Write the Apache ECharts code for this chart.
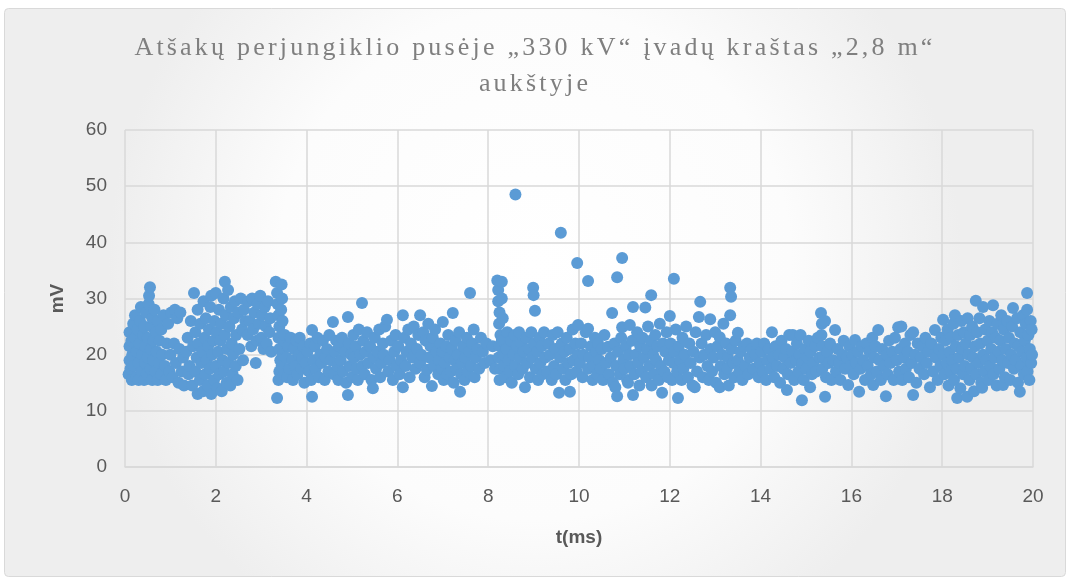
<!DOCTYPE html>
<html>
<head>
<meta charset="utf-8">
<script src="https://cdn.jsdelivr.net/npm/echarts@6/dist/echarts.min.js"></script>
<style>html,body{margin:0;padding:0;background:#fff;}#c{width:1070px;height:578px;}</style>
</head>
<body>
<div id="c"></div>
<script>
const titleText = 'Atšakų perjungiklio pusėje „330 kV“ įvadų kraštas „2,8 m“\naukštyje';
const xName = 't(ms)';
const yName = 'mV';
const xTicks = [0, 2, 4, 6, 8, 10, 12, 14, 16, 18, 20];
const yTicks = [0, 10, 20, 30, 40, 50, 60];

const seg0 = [[0.08,16.5],[0.1,19],[0.1,21.5],[0.1,24],[0.12,17.5],[0.14,22.5],[0.15,15.5],[0.16,20],[0.18,25.5],[0.2,18],[0.22,23],[0.22,27],[0.25,16],[0.26,20.5],[0.28,24.5],[0.3,15.5],[0.3,18.5],[0.32,22],[0.33,26],[0.35,28.5],[0.37,17],[0.38,20],[0.4,23.5],[0.42,15.5],[0.42,25],[0.44,18.5],[0.45,21.5],[0.46,27.5],[0.48,16.5],[0.5,19.5],[0.5,23],[0.52,29],[0.53,30.5],[0.55,32],[0.56,17.5],[0.57,21],[0.58,25],[0.6,15.5],[0.6,26.5],[0.62,19],[0.63,22.5],[0.65,28],[0.67,17],[0.68,24],[0.7,20.5],[0.72,15.5],[0.72,26],[0.75,18.5],[0.76,22.5],[0.8,16.5],[0.8,24.5],[0.82,20],[0.85,27],[0.88,18],[0.9,15.5],[0.92,22],[0.95,25.5],[0.98,17],[1.0,20],[1.02,27.5],[1.05,16],[1.08,22],[1.1,28],[1.12,18.5],[1.15,26.5],[1.18,15],[1.2,21],[1.22,27.5],[1.25,17],[1.28,19.5],[1.3,14.5]];
const seg1 = [[1.35,20.5],[1.38,23],[1.4,16.5],[1.42,18],[1.45,26],[1.48,14.5],[1.5,21.5],[1.52,31],[1.55,24],[1.55,17],[1.58,19.5],[1.6,13],[1.6,28],[1.62,22],[1.65,15.5],[1.66,25.5],[1.68,18.5],[1.7,20.5],[1.72,13.5],[1.73,29.5],[1.75,23],[1.77,16.5],[1.78,26.5],[1.8,19],[1.82,14.5],[1.83,21.5],[1.85,24.5],[1.87,17.5],[1.88,28.5],[1.9,13],[1.9,30.5],[1.92,20],[1.95,22.5],[1.96,15.5],[1.97,26],[2.0,18],[2.0,31],[2.02,24],[2.04,14],[2.05,20.5],[2.07,28],[2.08,16.5],[2.1,22.5],[2.12,25.5],[2.13,13.5],[2.15,19],[2.17,30],[2.18,17],[2.2,33],[2.2,23.5],[2.22,27],[2.24,15],[2.25,21],[2.27,31.5],[2.28,18.5],[2.3,25],[2.32,14.5],[2.33,28.5],[2.35,22],[2.37,16.5],[2.38,20],[2.4,26.5],[2.42,29.5],[2.44,18],[2.45,23.5],[2.48,15.5],[2.5,27.5],[2.52,21],[2.55,30],[2.58,24.5],[2.6,19],[2.62,28],[2.65,26]];
const seg2 = [[2.7,23.5],[2.72,29.5],[2.75,26],[2.78,21.5],[2.8,30],[2.82,24.5],[2.85,27.5],[2.88,18.5],[2.9,22.5],[2.92,29],[2.95,25.5],[2.98,30.5],[3.0,23],[3.02,27],[3.05,21],[3.08,28.5],[3.1,25],[3.12,22],[3.15,29.5],[3.18,24],[3.2,26.5],[3.22,20.5],[3.32,33],[3.35,31],[3.36,29],[3.38,27],[3.4,25],[3.38,23],[3.4,21],[3.42,19],[3.4,17],[3.38,15.5],[3.35,12.3],[3.45,32.5],[3.46,30],[3.44,28],[3.47,26],[3.48,22.5],[3.45,18],[3.5,16.5],[3.47,20],[3.52,23.5],[3.55,19.5],[3.57,16],[3.6,21.5],[3.62,17.5],[3.65,23],[3.68,19],[3.7,15.5],[3.72,21],[3.75,18],[3.78,22.5],[3.8,16.5],[3.83,20],[3.85,23],[3.88,17.5],[3.9,19.5],[3.93,21.5],[3.95,15],[3.98,18.5]];
const seg3 = [[4.02,20.5],[4.05,17],[4.08,22],[4.1,15.5],[4.12,24.4],[4.12,12.5],[4.15,19],[4.18,21.5],[4.2,17.5],[4.24,23],[4.27,16],[4.3,20],[4.33,18.5],[4.36,22.5],[4.4,15.5],[4.42,19.5],[4.45,21],[4.48,17],[4.5,23.5],[4.53,19],[4.58,25.8],[4.6,16.5],[4.62,20.5],[4.65,22.5],[4.68,18],[4.7,15.5],[4.72,21.5],[4.75,19],[4.78,23],[4.8,17],[4.84,20.5],[4.87,15],[4.91,26.7],[4.91,12.8],[4.93,22],[4.95,18],[4.98,20],[5.0,16],[5.03,23.5],[5.05,19.5],[5.08,21.5],[5.1,17.5],[5.13,15.5],[5.15,24.5],[5.18,20],[5.22,29.2],[5.22,18],[5.25,22.5],[5.28,16.5],[5.3,20.5],[5.33,24],[5.36,18.5],[5.4,21.5],[5.43,15.5],[5.46,14],[5.48,19.5],[5.5,23],[5.53,17.5],[5.56,20.5],[5.6,24.5],[5.62,16],[5.65,18.5],[5.68,22],[5.7,20],[5.73,25],[5.77,26.2],[5.8,17],[5.83,19],[5.86,22.5],[5.9,15.5],[5.93,20.5],[5.96,23.5],[5.98,18]];
const seg4 = [[6.02,21.5],[6.05,16.5],[6.08,19],[6.12,27],[6.12,14.2],[6.15,23],[6.18,18],[6.2,20.5],[6.24,24.5],[6.27,16],[6.3,22],[6.33,19.5],[6.36,25],[6.4,17.5],[6.43,21],[6.46,23.5],[6.5,27],[6.5,18.5],[6.53,20],[6.57,24],[6.6,16],[6.62,22.5],[6.65,17.3],[6.68,25.5],[6.7,19.5],[6.73,21.5],[6.76,14.4],[6.78,23],[6.8,18],[6.83,24.5],[6.86,20.5],[6.9,16.5],[6.92,19],[6.95,22],[6.98,17.5],[7.0,25.8],[7.0,20.5],[7.02,15.5],[7.05,18.5],[7.08,21.5],[7.1,16.5],[7.12,23.5],[7.15,19.5],[7.18,17],[7.2,21],[7.22,27.4],[7.24,15],[7.26,19],[7.28,22.5],[7.3,17.5],[7.33,20],[7.36,24],[7.38,13.4],[7.4,16.5],[7.42,18.5],[7.45,21.5],[7.48,15.5],[7.5,19.5],[7.53,23],[7.55,17],[7.58,20.5],[7.6,31],[7.62,18],[7.65,22],[7.68,24.5],[7.7,16],[7.73,19.5],[7.76,21],[7.8,17.5],[7.84,23],[7.88,20.5],[7.92,18.5],[7.96,22]];
const seg5 = [[8.05,19],[8.1,21.5],[8.15,17.5],[8.2,33.2],[8.22,31.5],[8.22,29.5],[8.25,27.5],[8.24,25.5],[8.27,23.5],[8.25,21.5],[8.23,19.5],[8.27,17.5],[8.25,15.5],[8.3,33],[8.3,30],[8.32,26.5],[8.3,22.5],[8.33,20],[8.35,18],[8.38,16],[8.4,21],[8.42,24],[8.45,19],[8.48,17],[8.5,22.5],[8.52,15],[8.55,20],[8.58,23.5],[8.6,48.5],[8.6,18],[8.63,21.5],[8.66,16.5],[8.68,24],[8.7,19.5],[8.73,22],[8.76,17.5],[8.78,20.5],[8.81,14.2],[8.84,23],[8.86,18.5],[8.9,21],[8.92,16],[8.95,24],[8.97,19.5],[8.99,31.9],[9.0,30.6],[9.03,27.8],[9.02,22],[9.05,17.5],[9.08,20.5],[9.1,15.5],[9.13,23],[9.15,18.5],[9.18,21.5],[9.2,16.5],[9.23,24],[9.26,19.5],[9.3,17],[9.33,22],[9.36,20],[9.4,15.5],[9.42,23.5],[9.45,18],[9.48,21],[9.5,16.5],[9.53,24],[9.56,13.2],[9.58,19.5],[9.6,41.7],[9.62,22],[9.65,17.5],[9.68,20.5],[9.7,15.5],[9.73,23],[9.76,18.5],[9.8,13.4],[9.8,21],[9.83,16.5],[9.86,24.5],[9.88,19],[9.96,36.3],[9.92,22],[9.95,17],[9.98,25.3],[9.98,20]];
const seg6 = [[10.02,18.5],[10.05,22],[10.08,16],[10.1,20],[10.15,24],[10.2,33.1],[10.2,24.6],[10.2,17.5],[10.23,19.5],[10.26,21.5],[10.3,15.5],[10.32,18],[10.35,23],[10.38,20.5],[10.4,16.5],[10.42,22],[10.45,19],[10.48,17.5],[10.5,21],[10.53,15.5],[10.56,23.5],[10.6,18.5],[10.64,21.4],[10.66,16.5],[10.7,19.5],[10.73,27.4],[10.75,15],[10.78,22],[10.8,14.2],[10.82,18],[10.84,33.8],[10.84,12.6],[10.86,20.5],[10.9,16.5],[10.93,23],[10.95,24.9],[10.95,37.2],[10.98,19],[11.0,17.5],[11.03,21.5],[11.06,15.5],[11.08,15],[11.1,20],[11.12,25.3],[11.14,18],[11.17,22.5],[11.19,28.5],[11.19,12.8],[11.22,16.5],[11.25,20],[11.28,24],[11.3,18.5],[11.33,14.5],[11.35,21.5],[11.38,17],[11.4,23],[11.43,19.5],[11.46,28.4],[11.48,16],[11.5,21],[11.52,25],[11.55,18],[11.58,22.5],[11.59,30.6],[11.6,14.5],[11.63,20],[11.66,16.5],[11.68,23.5],[11.7,19],[11.73,21.5],[11.76,15.5],[11.78,25.5],[11.8,18],[11.83,13.2],[11.85,22],[11.88,17],[11.9,20.5],[11.93,24],[11.96,16],[11.98,19]];
const seg7 = [[12.0,26.9],[12.02,22],[12.05,15.5],[12.08,18.5],[12.09,33.5],[12.1,20.5],[12.13,24.5],[12.16,17],[12.18,12.3],[12.2,21.5],[12.23,19],[12.26,15.5],[12.28,23],[12.3,17.5],[12.33,20],[12.36,25],[12.4,16],[12.43,22],[12.46,18.5],[12.5,14.5],[12.52,20.5],[12.55,14.2],[12.57,24],[12.6,17],[12.64,26.7],[12.67,29.4],[12.66,19.5],[12.7,22],[12.73,16],[12.76,20],[12.8,23.5],[12.83,18],[12.86,15.5],[12.89,26.3],[12.9,21],[12.93,17],[12.96,19.5],[13.0,24],[13.02,15],[13.05,21.5],[13.1,23.1],[13.1,14.2],[13.12,18],[13.15,20],[13.18,25.5],[13.2,16.5],[13.24,22],[13.26,17.6],[13.28,19.5],[13.3,14.5],[13.33,27],[13.33,31.9],[13.35,30.3],[13.36,21],[13.4,18.5],[13.42,16],[13.45,22.5],[13.5,23.9],[13.5,19],[13.53,17],[13.56,20.5],[13.6,15.5],[13.63,21.5],[13.66,18],[13.7,22],[13.73,16.5],[13.76,19.5],[13.8,21],[13.84,17.5],[13.88,20],[13.92,22],[13.96,16],[13.98,18.5]];
const seg8 = [[14.02,20.5],[14.05,17],[14.08,22],[14.12,15.5],[14.15,19],[14.18,21],[14.22,17.5],[14.25,24],[14.27,19.5],[14.3,16],[14.33,21.5],[14.36,18],[14.4,20],[14.43,15],[14.46,22.5],[14.5,17.5],[14.53,19.5],[14.56,21],[14.58,13.7],[14.6,16.5],[14.63,23.5],[14.66,18.5],[14.7,20.5],[14.71,23.5],[14.74,15.5],[14.78,19],[14.8,22],[14.83,17],[14.86,20],[14.88,23.5],[14.91,11.9],[14.92,18.5],[14.95,15.5],[14.98,21],[15.0,17.5],[15.03,19.5],[15.06,22.5],[15.09,14.2],[15.1,20.5],[15.13,16.5],[15.16,18.5],[15.2,21.5],[15.23,17],[15.26,23],[15.3,19.5],[15.33,27.4],[15.35,25.5],[15.34,23.5],[15.36,21.5],[15.38,19.5],[15.36,17.5],[15.42,12.5],[15.42,26],[15.44,16],[15.47,20.5],[15.5,18.5],[15.53,22],[15.56,15.5],[15.6,19],[15.64,24.4],[15.66,17],[15.7,21],[15.73,18.5],[15.76,15.5],[15.8,20],[15.83,22.5],[15.86,17.5],[15.9,19.5],[15.93,14.6],[15.96,21.5],[15.98,18]];
const seg9 = [[16.02,20],[16.05,16.5],[16.08,22.6],[16.1,18.5],[16.14,20.5],[16.17,13.4],[16.2,17.5],[16.23,21.5],[16.26,19],[16.3,15.5],[16.33,22],[16.36,18],[16.4,20.5],[16.43,16.5],[16.46,23],[16.48,14.6],[16.5,19.5],[16.53,21.5],[16.56,17],[16.59,24.4],[16.62,19],[16.65,15.5],[16.68,21],[16.72,18],[16.76,12.6],[16.78,20],[16.8,16.5],[16.83,22.5],[16.86,18.5],[16.9,20.5],[16.93,15.5],[16.96,23],[17.0,19],[17.03,24.9],[17.05,17],[17.08,21],[17.1,25],[17.12,15.5],[17.15,19.5],[17.18,22],[17.2,17.5],[17.24,20.5],[17.27,16],[17.3,23.5],[17.33,18.5],[17.36,24],[17.36,12.8],[17.4,20],[17.43,15],[17.46,22],[17.5,17.5],[17.53,19.5],[17.56,21.5],[17.6,16.5],[17.63,23],[17.66,18.5],[17.7,20.5],[17.73,14.2],[17.76,22],[17.8,17],[17.84,24.4],[17.86,19.5],[17.9,15.5],[17.93,21],[17.96,18],[17.98,23]];
const seg10 = [[18.02,26.2],[18.03,20],[18.05,16.5],[18.07,22.5],[18.1,18.5],[18.12,24.5],[18.14,14.5],[18.16,20.5],[18.18,17],[18.2,23],[18.22,19],[18.25,25.5],[18.26,15.5],[18.28,27],[18.3,21.5],[18.32,17.5],[18.33,12.3],[18.35,23.5],[18.37,19.5],[18.4,14],[18.42,26],[18.44,21],[18.46,16.5],[18.48,24],[18.5,18],[18.52,22],[18.55,12.5],[18.56,26.5],[18.58,20],[18.6,15.5],[18.62,23.5],[18.64,17.5],[18.66,25],[18.68,19.5],[18.7,13.5],[18.72,21.5],[18.74,29.6],[18.75,16.5],[18.77,24],[18.8,18.5],[18.82,26.5],[18.84,22],[18.86,15],[18.88,14.1],[18.9,28.5],[18.9,20],[18.93,17],[18.95,24.5],[18.97,19],[19.0,22.5],[19.02,15.5],[19.04,26],[19.06,18],[19.08,21],[19.1,24],[19.12,28.8],[19.13,16.5],[19.15,19.5],[19.18,23],[19.2,14.5],[19.22,25.5],[19.24,20.5],[19.26,17.5],[19.28,22.5],[19.3,27],[19.32,19],[19.34,14.6],[19.36,24.5],[19.38,16],[19.4,21],[19.43,26],[19.45,18.5],[19.47,23],[19.5,15.5],[19.52,20],[19.54,25],[19.56,28.3],[19.58,17.5],[19.6,22],[19.62,19],[19.65,26.5],[19.67,15],[19.68,21.5],[19.71,13.4],[19.72,24],[19.74,18],[19.76,20.5],[19.78,27],[19.8,16.5],[19.82,22.5],[19.84,25.5],[19.86,19.5],[19.87,31],[19.87,28],[19.88,17],[19.9,23.5],[19.92,15.5],[19.93,21],[19.95,26],[19.96,18.5],[19.97,24.5],[19.98,20]];

const allPoints = [].concat(seg0, seg1, seg2, seg3, seg4, seg5, seg6, seg7, seg8, seg9, seg10);

// Letter-spaced serif title: apply canvas letterSpacing to the title font only (both for measuring and drawing)
(function () {
  const P = CanvasRenderingContext2D.prototype;
  if (!('letterSpacing' in P)) return;
  const wrap = function (name) {
    const orig = P[name];
    P[name] = function () {
      if (this.font && this.font.indexOf('Liberation Serif') >= 0) {
        const prev = this.letterSpacing;
        this.letterSpacing = '3.2px';
        const r = orig.apply(this, arguments);
        this.letterSpacing = prev;
        return r;
      }
      return orig.apply(this, arguments);
    };
  };
  wrap('fillText');
  wrap('measureText');
})();

const labelFont = "'Liberation Sans Narrow', 'Liberation Sans', sans-serif";
const chart = echarts.init(document.getElementById('c'), null, {renderer: 'canvas'});
chart.setOption({
  animation: false,
  backgroundColor: 'transparent',
  graphic: [{
    type: 'rect', z: -10, silent: true,
    shape: {x: 4.5, y: 8.5, width: 1061, height: 568, r: 4},
    style: {
      fill: new echarts.graphic.RadialGradient(0.5, 0.45, 0.75, [
        {offset: 0, color: '#ffffff'}, {offset: 0.6, color: '#fcfcfc'}, {offset: 1, color: '#eeeeee'}
      ]),
      stroke: '#d9d9d9', lineWidth: 1
    }
  }],
  title: {
    text: titleText,
    left: 'center', top: 25,
    textStyle: {fontFamily: "'Liberation Serif', serif", fontWeight: 'normal', fontSize: 26, color: '#7f7f7f', lineHeight: 36}
  },
  grid: {left: 125, right: 37, top: 130, bottom: 111, containLabel: false},
  xAxis: {
    type: 'value', min: xTicks[0], max: xTicks[xTicks.length - 1], interval: 2,
    name: xName, nameLocation: 'middle', nameGap: 61,
    nameTextStyle: {fontFamily: labelFont, fontWeight: 'bold', fontSize: 19, color: '#595959'},
    axisLine: {show: true, lineStyle: {color: '#d9d9d9', width: 1.5}},
    axisTick: {show: false},
    axisLabel: {fontFamily: labelFont, fontSize: 19, color: '#595959', margin: 20},
    splitLine: {show: true, lineStyle: {color: '#d9d9d9', width: 1.5}}
  },
  yAxis: {
    type: 'value', min: yTicks[0], max: yTicks[yTicks.length - 1], interval: 10,
    name: yName, nameLocation: 'middle', nameGap: 58, nameRotate: 90,
    nameTextStyle: {fontFamily: labelFont, fontWeight: 'bold', fontSize: 19, color: '#595959'},
    axisLine: {show: false},
    axisTick: {show: false},
    axisLabel: {fontFamily: labelFont, fontSize: 19, color: '#595959', margin: 18},
    splitLine: {show: true, lineStyle: {color: '#d9d9d9', width: 1.5}}
  },
  series: [{
    type: 'scatter',
    data: allPoints,
    symbol: 'circle',
    symbolSize: 12,
    itemStyle: {color: '#5b9bd5', opacity: 1},
    emphasis: {disabled: true}
  }]
});
</script>
</body>
</html>
